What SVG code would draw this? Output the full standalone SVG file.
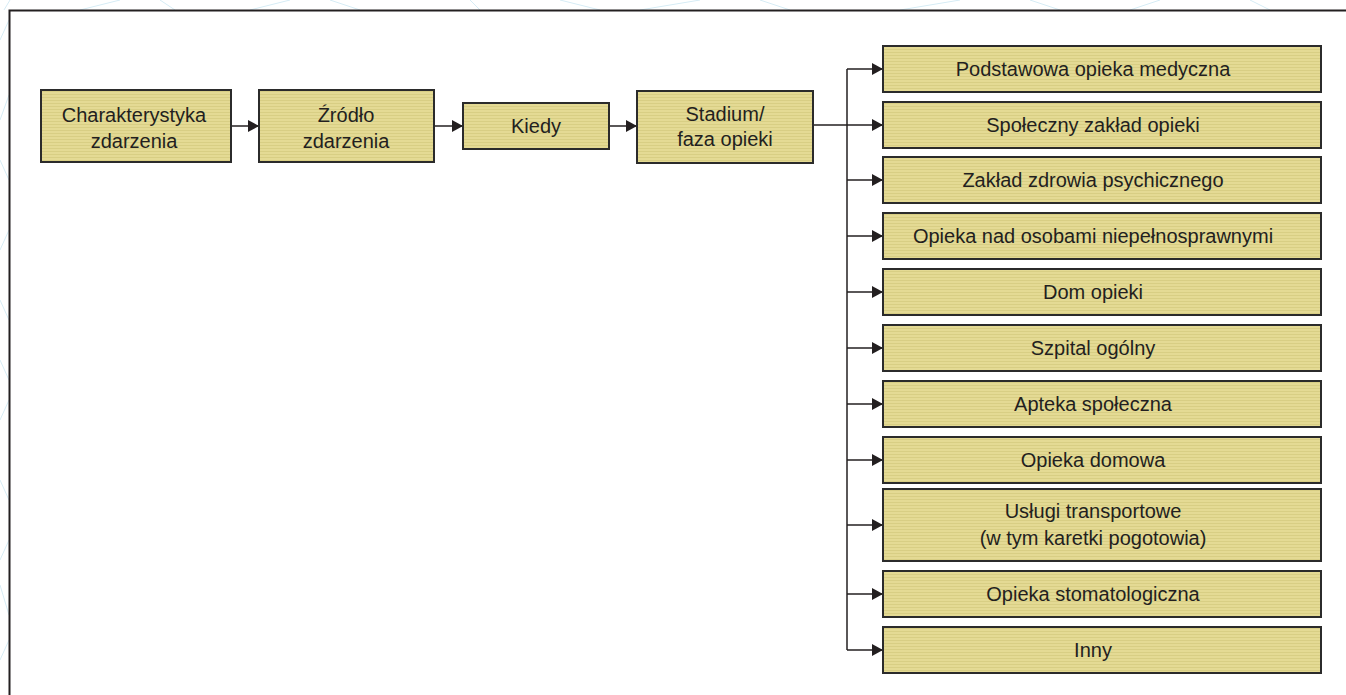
<svg xmlns="http://www.w3.org/2000/svg" width="1346" height="695" viewBox="0 0 1346 695">
  <defs>
    <!-- fine horizontal grain used as box fill -->
    <pattern id="grain" width="6" height="3" patternUnits="userSpaceOnUse">
      <rect width="6" height="3" fill="#e4da94"/>
      <rect y="1" width="6" height="1" fill="#d8ce84"/>
    </pattern>
    <marker id="arrow" viewBox="0 0 11 12" refX="11" refY="6" markerWidth="11" markerHeight="12" markerUnits="userSpaceOnUse" orient="auto">
      <path d="M0,0 L11,6 L0,12 Z" fill="#231f20"/>
    </marker>
    <clipPath id="outside">
      <path d="M0,0 H1346 V10 H9 V695 H0 Z"/>
    </clipPath>
  </defs>
  <style>
    .box { fill: url(#grain); stroke: #2b2b2b; stroke-width: 2; }
    .lbl { font-family: "Liberation Sans", Arial, sans-serif; font-size: 20px; fill: #231f20; text-anchor: middle; }
    .con { fill: none; stroke: #231f20; stroke-width: 1.5; }
    .deco { stroke: #d6ecf5; stroke-width: 1; fill: none; }
  </style>

  <rect width="1346" height="695" fill="#ffffff"/>

  <!-- faint background ornament outside the frame -->
  <g clip-path="url(#outside)">
    <path class="deco" d="M0,40 L9,20 M0,120 L9,95 M0,160 L9,180 M0,250 L9,230 M0,300 L9,320 M0,360 L9,380 M0,420 L9,400 M0,480 L9,500 M0,560 L9,540 M0,585 L9,615 M0,660 L9,640"/>
    <path class="deco" d="M10,0 L4,10 M80,10 L120,0 M160,0 L175,10 M250,10 L290,0 M330,0 L360,10 M480,10 L470,0 M560,0 L600,10 M640,10 L700,0 M760,0 L790,10 M900,10 L960,0 M1030,0 L1060,10 M1130,10 L1160,0 M1250,0 L1270,10"/>
  </g>

  <!-- outer frame -->
  <path d="M9.5,700 V10.5 H1350" fill="none" stroke="#231f20" stroke-width="2"/>

  <!-- connectors -->
  <g id="connectors">
    <path class="con" d="M231,126 H259" marker-end="url(#arrow)"/>
    <path class="con" d="M434,126 H463" marker-end="url(#arrow)"/>
    <path class="con" d="M609,126 H637" marker-end="url(#arrow)"/>
    <path class="con" d="M813,125 H883" marker-end="url(#arrow)"/>
    <path class="con" d="M847,69 V650"/>
    <path class="con" d="M847,69 H883" marker-end="url(#arrow)"/>
    <path class="con" d="M847,180 H883" marker-end="url(#arrow)"/>
    <path class="con" d="M847,236 H883" marker-end="url(#arrow)"/>
    <path class="con" d="M847,292 H883" marker-end="url(#arrow)"/>
    <path class="con" d="M847,348 H883" marker-end="url(#arrow)"/>
    <path class="con" d="M847,404 H883" marker-end="url(#arrow)"/>
    <path class="con" d="M847,460 H883" marker-end="url(#arrow)"/>
    <path class="con" d="M847,525 H883" marker-end="url(#arrow)"/>
    <path class="con" d="M847,594 H883" marker-end="url(#arrow)"/>
    <path class="con" d="M847,650 H883" marker-end="url(#arrow)"/>
  </g>

  <!-- main chain -->
  <g id="charakterystyka">
    <rect class="box" x="41" y="90" width="190" height="72"/>
    <text class="lbl" x="134" y="122">Charakterystyka</text>
    <text class="lbl" x="134" y="148">zdarzenia</text>
  </g>
  <g id="zrodlo">
    <rect class="box" x="259" y="90" width="175" height="72"/>
    <text class="lbl" x="346" y="122">Źródło</text>
    <text class="lbl" x="346" y="148">zdarzenia</text>
  </g>
  <g id="kiedy">
    <rect class="box" x="463" y="103" width="146" height="46"/>
    <text class="lbl" x="536" y="133">Kiedy</text>
  </g>
  <g id="stadium">
    <rect class="box" x="637" y="91" width="176" height="72"/>
    <text class="lbl" x="725" y="121">Stadium/</text>
    <text class="lbl" x="725" y="146">faza opieki</text>
  </g>

  <!-- care settings -->
  <g id="podstawowa">
    <rect class="box" x="883" y="46" width="438" height="46"/>
    <text class="lbl" x="1093" y="76">Podstawowa opieka medyczna</text>
  </g>
  <g id="spoleczny">
    <rect class="box" x="883" y="102" width="438" height="46"/>
    <text class="lbl" x="1093" y="132">Społeczny zakład opieki</text>
  </g>
  <g id="psychiatria">
    <rect class="box" x="883" y="157" width="438" height="46"/>
    <text class="lbl" x="1093" y="187">Zakład zdrowia psychicznego</text>
  </g>
  <g id="niepelnosprawni">
    <rect class="box" x="883" y="213" width="438" height="46"/>
    <text class="lbl" x="1093" y="243">Opieka nad osobami niepełnosprawnymi</text>
  </g>
  <g id="dom-opieki">
    <rect class="box" x="883" y="269" width="438" height="46"/>
    <text class="lbl" x="1093" y="299">Dom opieki</text>
  </g>
  <g id="szpital">
    <rect class="box" x="883" y="325" width="438" height="46"/>
    <text class="lbl" x="1093" y="355">Szpital ogólny</text>
  </g>
  <g id="apteka">
    <rect class="box" x="883" y="381" width="438" height="46"/>
    <text class="lbl" x="1093" y="411">Apteka społeczna</text>
  </g>
  <g id="domowa">
    <rect class="box" x="883" y="437" width="438" height="46"/>
    <text class="lbl" x="1093" y="467">Opieka domowa</text>
  </g>
  <g id="transport">
    <rect class="box" x="883" y="489" width="438" height="72"/>
    <text class="lbl" x="1093" y="518">Usługi transportowe</text>
    <text class="lbl" x="1093" y="545">(w tym karetki pogotowia)</text>
  </g>
  <g id="stomatologia">
    <rect class="box" x="883" y="571" width="438" height="46"/>
    <text class="lbl" x="1093" y="601">Opieka stomatologiczna</text>
  </g>
  <g id="inny">
    <rect class="box" x="883" y="627" width="438" height="46"/>
    <text class="lbl" x="1093" y="657">Inny</text>
  </g>
</svg>
